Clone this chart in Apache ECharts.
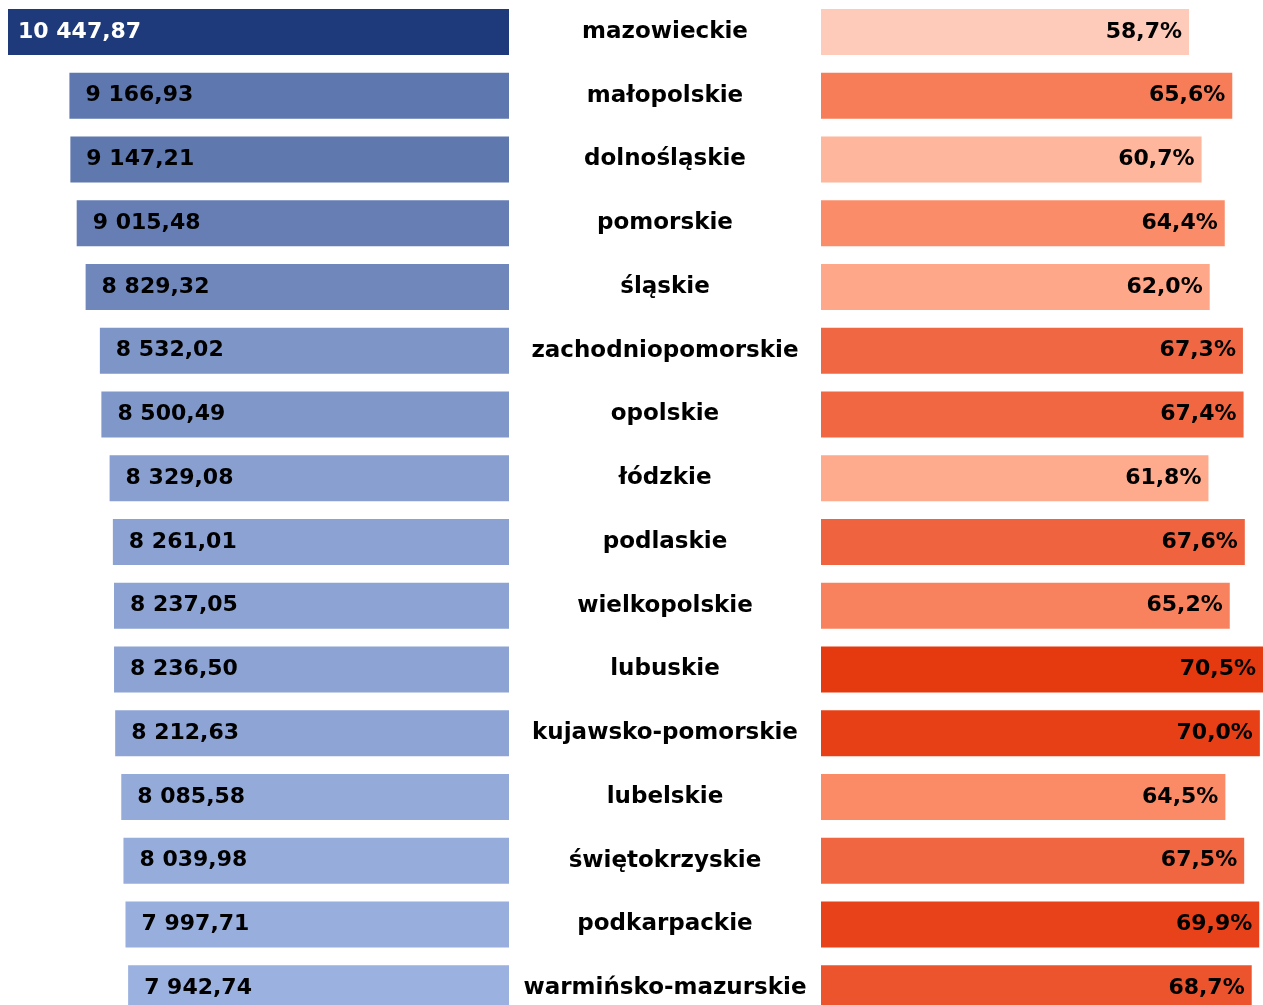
<!DOCTYPE html>
<html>
<head>
<meta charset="utf-8">
<script src="https://cdn.jsdelivr.net/npm/echarts@6/dist/echarts.min.js"></script>
<style>
  html, body { margin: 0; padding: 0; background: #ffffff; overflow: hidden; }
  /* the drawing is slightly taller than the window, so the last row is cut */
  #chart { width: 1263px; height: 1020px; }
</style>
</head>
<body>
<div id="chart"></div>
<script>
// Voivodeships, ordered from the highest value downwards
const regions = [
  'mazowieckie', 'małopolskie', 'dolnośląskie', 'pomorskie', 'śląskie',
  'zachodniopomorskie', 'opolskie', 'łódzkie', 'podlaskie', 'wielkopolskie',
  'lubuskie', 'kujawsko-pomorskie', 'lubelskie', 'świętokrzyskie',
  'podkarpackie', 'warmińsko-mazurskie'
];

// Left-hand values (PLN)
const amounts = [
  10447.87, 9166.93, 9147.21, 9015.48, 8829.32, 8532.02, 8500.49, 8329.08,
  8261.01, 8237.05, 8236.50, 8212.63, 8085.58, 8039.98, 7997.71, 7942.74
];

// Right-hand shares (%)
const shares = [
  58.7, 65.6, 60.7, 64.4, 62.0, 67.3, 67.4, 61.8,
  67.6, 65.2, 70.5, 70.0, 64.5, 67.5, 69.9, 68.7
];

const FONT = 'DejaVu Sans';

// "10 447,87" style formatting
function fmtAmount(v) {
  const parts = v.toFixed(2).split('.');
  return parts[0].replace(/\B(?=(\d{3})+(?!\d))/g, ' ') + ',' + parts[1];
}
function fmtShare(v) {
  return v.toFixed(1).replace('.', ',') + '%';
}

// the longest (darkest) bar gets a white label
const maxAmount = Math.max(...amounts);
const amountData = amounts.map(v => (v === maxAmount
  ? { value: v, label: { color: '#ffffff', distance: 10 } }
  : { value: v, label: { color: '#000000' } }));

const chart = echarts.init(document.getElementById('chart'), null, { renderer: 'canvas' });

chart.setOption({
  animation: false,
  backgroundColor: '#ffffff',
  grid: [
    { left: 8, width: 501, top: 0, bottom: 0, containLabel: false },
    { left: 821, right: 0, top: 0, bottom: 0, containLabel: false }
  ],
  xAxis: [
    { gridIndex: 0, type: 'value', inverse: true, min: 0, max: 'dataMax', show: false },
    { gridIndex: 1, type: 'value', min: 0, max: 'dataMax', show: false }
  ],
  yAxis: [
    {
      gridIndex: 0, type: 'category', data: regions, inverse: true, position: 'right',
      axisLine: { show: false }, axisTick: { show: false }, splitLine: { show: false },
      axisLabel: {
        show: true, margin: 156, align: 'center', interval: 0,
        fontFamily: FONT, fontWeight: 'bold', fontSize: 23, color: '#000000'
      }
    },
    {
      gridIndex: 1, type: 'category', data: regions, inverse: true,
      axisLine: { show: false }, axisTick: { show: false }, axisLabel: { show: false },
      splitLine: { show: false }
    }
  ],
  visualMap: [
    {
      show: false, type: 'continuous', seriesIndex: 0, dimension: 0,
      min: Math.min(...amounts), max: maxAmount,
      inRange: { color: ['#9bb1df', '#1f3a7a'] }
    },
    {
      show: false, type: 'continuous', seriesIndex: 1, dimension: 0,
      min: Math.min(...shares), max: Math.max(...shares),
      inRange: { color: ['#fecbba', '#feac8e', '#fb8a66', '#ef6540', '#e5390f'] }
    }
  ],
  series: [
    {
      type: 'bar', xAxisIndex: 0, yAxisIndex: 0, data: amountData, barWidth: 46,
      label: {
        show: true, position: 'insideLeft', distance: 16,
        fontFamily: FONT, fontWeight: 'bold', fontSize: 22,
        formatter: p => fmtAmount(p.value)
      }
    },
    {
      type: 'bar', xAxisIndex: 1, yAxisIndex: 1, data: shares, barWidth: 46,
      label: {
        show: true, position: 'insideRight', distance: 7, color: '#000000',
        fontFamily: FONT, fontWeight: 'bold', fontSize: 22,
        formatter: p => fmtShare(p.value)
      }
    }
  ]
});
</script>
</body>
</html>
